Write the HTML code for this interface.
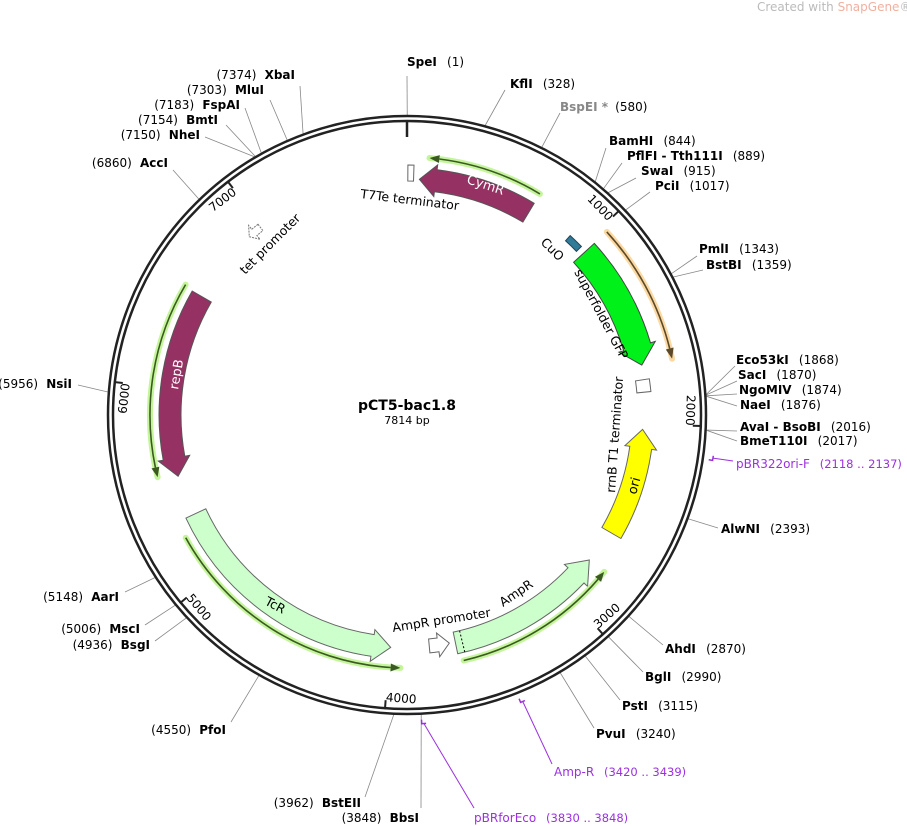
<!DOCTYPE html>
<html><head><meta charset="utf-8"><style>
html,body{margin:0;padding:0;background:#fff;}
svg{display:block;font-family:"DejaVu Sans","Liberation Sans",sans-serif;}
.n{font-weight:bold;font-size:12px;fill:#000}
.c{font-size:12px;font-weight:normal;fill:#000}
.p{font-size:12px;fill:#9b30e0}
.pc{font-size:11.5px;fill:#9b30e0}
.f{font-size:12.5px;fill:#000}
</style></head><body>
<svg id="s" width="907" height="826" viewBox="0 0 907 826" xmlns="http://www.w3.org/2000/svg">
<g id="lines"></g>
<circle cx="407" cy="415" r="299" fill="none" stroke="#222" stroke-width="2.5"/>
<circle cx="407" cy="415" r="294" fill="none" stroke="#222" stroke-width="2.5"/>
<g id="feat"></g>
<g id="ticks"></g>
<text x="757" y="11" font-size="12" fill="#bbb">Created with <tspan fill="#f0b0a0">SnapGene</tspan>®</text>
<text x="407" y="410" text-anchor="middle" font-weight="bold" font-size="14">pCT5-bac1.8</text>
<text x="407" y="424" text-anchor="middle" font-size="11">7814 bp</text>

<text x="407" y="66" class="n">SpeI <tspan class="c" dx="6">(1)</tspan></text>
<text x="510" y="88" class="n">KflI <tspan class="c" dx="6">(328)</tspan></text>
<text x="560" y="111" class="n" style="fill:#888">BspEI * <tspan class="c" dx="3">(580)</tspan></text>
<text x="609" y="145" class="n">BamHI <tspan class="c" dx="6">(844)</tspan></text>
<text x="627" y="160" class="n">PflFI  - Tth111I <tspan class="c" dx="6">(889)</tspan></text>
<text x="641" y="175" class="n">SwaI <tspan class="c" dx="6">(915)</tspan></text>
<text x="655" y="190" class="n">PciI <tspan class="c" dx="6">(1017)</tspan></text>
<text x="699" y="253" class="n">PmlI <tspan class="c" dx="6">(1343)</tspan></text>
<text x="706" y="269" class="n">BstBI <tspan class="c" dx="6">(1359)</tspan></text>
<text x="736" y="364" class="n">Eco53kI <tspan class="c" dx="6">(1868)</tspan></text>
<text x="738" y="379" class="n">SacI <tspan class="c" dx="6">(1870)</tspan></text>
<text x="739" y="394" class="n">NgoMIV <tspan class="c" dx="6">(1874)</tspan></text>
<text x="740" y="409" class="n">NaeI <tspan class="c" dx="6">(1876)</tspan></text>
<text x="740" y="431" class="n">AvaI  - BsoBI <tspan class="c" dx="6">(2016)</tspan></text>
<text x="740" y="445" class="n">BmeT110I <tspan class="c" dx="6">(2017)</tspan></text>
<text x="736" y="468" class="p">pBR322ori-F <tspan class="pc" dx="6">(2118 .. 2137)</tspan></text>
<text x="721" y="533" class="n">AlwNI <tspan class="c" dx="6">(2393)</tspan></text>
<text x="665" y="653" class="n">AhdI <tspan class="c" dx="6">(2870)</tspan></text>
<text x="645" y="681" class="n">BglI <tspan class="c" dx="6">(2990)</tspan></text>
<text x="622" y="710" class="n">PstI <tspan class="c" dx="6">(3115)</tspan></text>
<text x="596" y="738" class="n">PvuI <tspan class="c" dx="6">(3240)</tspan></text>
<text x="554" y="776" class="p">Amp-R <tspan class="pc" dx="6">(3420 .. 3439)</tspan></text>
<text x="474" y="822" class="p">pBRforEco <tspan class="pc" dx="6">(3830 .. 3848)</tspan></text>
<text x="419" y="822" class="n" text-anchor="end"><tspan class="c">(3848)</tspan> <tspan dx="4">BbsI</tspan></text>
<text x="361" y="807" class="n" text-anchor="end"><tspan class="c">(3962)</tspan> <tspan dx="4">BstEII</tspan></text>
<text x="226" y="734" class="n" text-anchor="end"><tspan class="c">(4550)</tspan> <tspan dx="4">PfoI</tspan></text>
<text x="150" y="649" class="n" text-anchor="end"><tspan class="c">(4936)</tspan> <tspan dx="4">BsgI</tspan></text>
<text x="140" y="633" class="n" text-anchor="end"><tspan class="c">(5006)</tspan> <tspan dx="4">MscI</tspan></text>
<text x="119" y="601" class="n" text-anchor="end"><tspan class="c">(5148)</tspan> <tspan dx="4">AarI</tspan></text>
<text x="72" y="388" class="n" text-anchor="end"><tspan class="c">(5956)</tspan> <tspan dx="4">NsiI</tspan></text>
<text x="168" y="167" class="n" text-anchor="end"><tspan class="c">(6860)</tspan> <tspan dx="4">AccI</tspan></text>
<text x="200" y="139" class="n" text-anchor="end"><tspan class="c">(7150)</tspan> <tspan dx="4">NheI</tspan></text>
<text x="218" y="124" class="n" text-anchor="end"><tspan class="c">(7154)</tspan> <tspan dx="4">BmtI</tspan></text>
<text x="240" y="109" class="n" text-anchor="end"><tspan class="c">(7183)</tspan> <tspan dx="4">FspAI</tspan></text>
<text x="264" y="94" class="n" text-anchor="end"><tspan class="c">(7303)</tspan> <tspan dx="4">MluI</tspan></text>
<text x="295" y="79" class="n" text-anchor="end"><tspan class="c">(7374)</tspan> <tspan dx="4">XbaI</tspan></text>

<text x="0" y="0" class="f" transform="translate(360,198) rotate(7)">T7Te terminator</text>
<text x="0" y="0" font-size="13" fill="#fff" transform="translate(466,183) rotate(18)">CymR</text>
<text x="0" y="0" class="f" transform="translate(540,243) rotate(45)">CuO</text>
<text x="0" y="0" class="f" transform="translate(574,272) rotate(62)">superfolder GFP</text>
<text x="0" y="0" class="f" transform="translate(615,493) rotate(-86)">rrnB T1 terminator</text>
<text x="0" y="0" font-size="13" fill="#000" transform="translate(636,495) rotate(-75)">ori</text>
<text x="0" y="0" class="f" transform="translate(503,607) rotate(-34)">AmpR</text>
<text x="0" y="0" class="f" transform="translate(393,632) rotate(-9)">AmpR promoter</text>
<text x="0" y="0" class="f" transform="translate(264,604) rotate(28)">TcR</text>
<text x="0" y="0" font-size="13" fill="#fff" transform="translate(178,390) rotate(-80)">repB</text>
<text x="0" y="0" class="f" transform="translate(245,275) rotate(-45)">tet promoter</text>
</svg>
<script>
var cx=407,cy=415,T=7814,NS="http://www.w3.org/2000/svg";
function ang(bp){return bp/T*360;}
function pt(r,a){var t=a*Math.PI/180;return [cx+r*Math.sin(t),cy-r*Math.cos(t)];}
function el(g,tag,attrs){var e=document.createElementNS(NS,tag);for(var k in attrs)e.setAttribute(k,attrs[k]);document.getElementById(g).appendChild(e);return e;}
function P(p){return p[0].toFixed(1)+" "+p[1].toFixed(1);}
function arcPath(r,a1,a2){var s=a2>a1?1:0,l=Math.abs(a2-a1)>180?1:0;return "M"+P(pt(r,a1))+" A"+r+" "+r+" 0 "+l+" "+s+" "+P(pt(r,a2));}
function arrow(r,w,aT,aH,hd,fill,stroke,dash){
 var sg=aH>aT?1:-1,aB=aH-sg*hd,ro=r+w/2,ri=r-w/2;
 var s1=sg>0?1:0,s2=1-s1;
 var d="M"+P(pt(ro,aT))+" A"+ro+" "+ro+" 0 0 "+s1+" "+P(pt(ro,aB))+" L"+P(pt(ro+5,aB))+" L"+P(pt(r,aH))+" L"+P(pt(ri-5,aB))+" L"+P(pt(ri,aB))+" A"+ri+" "+ri+" 0 0 "+s2+" "+P(pt(ri,aT))+" Z";
 var a={d:d,fill:fill,stroke:stroke,"stroke-width":1};if(dash)a["stroke-dasharray"]=dash;
 el("feat","path",a);
}
function box(r,w,a1,a2,fill,stroke){
 var d="M"+P(pt(r+w/2,a1))+" A"+(r+w/2)+" "+(r+w/2)+" 0 0 1 "+P(pt(r+w/2,a2))+" L"+P(pt(r-w/2,a2))+" A"+(r-w/2)+" "+(r-w/2)+" 0 0 0 "+P(pt(r-w/2,a1))+" Z";
 el("feat","path",{d:d,fill:fill,stroke:stroke,"stroke-width":1});
}
function line(r,aT,aH,halo,col){
 var sg=aH>aT?1:-1,aB=aH-sg*2.2;
 el("feat","path",{d:arcPath(r,aT,aH),fill:"none",stroke:halo,"stroke-width":6,"stroke-linecap":"round"});
 el("feat","path",{d:arcPath(r,aT,aB),fill:"none",stroke:col,"stroke-width":1.6});
 el("feat","path",{d:"M"+P(pt(r+4,aB))+" L"+P(pt(r,aH))+" L"+P(pt(r-4,aB))+" Z",fill:col});
}
line(258,31,5,"#c4f59a","#3b5a22");
arrow(236,22,31,3,4,"#963163","#555");
box(242,16,0.2,1.6,"#fff","#666");
box(239,7,42.3,46,"#2f7b98","#245");
arrow(240,28,47.5,78,4.5,"#00f01a","#444");
line(271,47.5,78,"#fcd9a3","#5a4a2a");
box(238,14,81.5,84.5,"#fff","#666");
arrow(236,22,120,93.5,4.5,"#ffff00","#666");
arrow(233,22,168,128.5,5,"#ccffcc","#666");
(function(){var a=166.3,p=pt(244,a),q=pt(222,a);el("feat","line",{x1:p[0],y1:p[1],x2:q[0],y2:q[1],stroke:"#000","stroke-width":1,"stroke-dasharray":"2 2"});})();
arrow(232,14,174.5,169.5,2.8,"#fff","#666");
line(252,167,128.5,"#c4f59a","#3b5a22");
arrow(233,22,245,184,4.5,"#ccffcc","#666");
line(253,241,181.5,"#c4f59a","#3b5a22");
arrow(237,22,300,255,4.5,"#963163","#555");
line(257,300.5,256,"#c4f59a","#3b5a22");
arrow(238,8,322,318.5,1.6,"#fff","#777","2 1");
[0,1000,2000,3000,4000,5000,6000,7000].forEach(function(b){var a=ang(b);var p1=pt(295,a),p2=pt(b==0?278:286,a);
 el("ticks","line",{x1:p1[0],y1:p1[1],x2:p2[0],y2:p2[1],stroke:"#222","stroke-width":b==0?2.5:2});
 if(b==0)return;
 var rot,anc;if(a<120){rot=a;anc="end";}else if(a<255){rot=a-180;anc="start";}else{rot=a-360;anc="end";}
 var q=pt(283,a);var t=el("ticks","text",{x:0,y:0,"font-size":12,"text-anchor":anc,transform:"translate("+q[0].toFixed(1)+","+q[1].toFixed(1)+") rotate("+rot.toFixed(1)+") translate(0,4)"});t.textContent=b;});
var L=[[1,407,76],[328,505,90],[580,560,113],[844,606,148],[889,622,163],[915,636,178],[1017,650,192],[1343,697,256],[1359,703,270],
[1868,735,366],[1870,737,381],[1874,737,394],[1876,737,406],[2016,737,431],[2017,737,441],[2393,718,528],
[2870,663,645],[2990,643,672],[3115,620,700],[3240,594,728],[3848,421,808],[3962,365,797],[4550,231,722],
[4936,155,641],[5006,145,625],[5148,125,592],[5956,78,385],[6860,173,170],[7150,205,137],[7154,226,125],[7183,245,108],[7303,270,100],[7374,300,86]];
L.forEach(function(o){var a=ang(o[0]);var p=pt(300,a);
 el("lines","line",{x1:p[0],y1:p[1],x2:o[1],y2:o[2],stroke:"#888","stroke-width":0.8});});
function primer(b1,b2,x,y){var a=ang((b1+b2)/2);var q=pt(309,a);
 el("lines","path",{d:arcPath(309,ang(b1),ang(b2))+" L"+P(pt(305,ang(b2))),fill:"none",stroke:"#9b30e0","stroke-width":1.5});
 el("lines","line",{x1:q[0],y1:q[1],x2:x,y2:y,stroke:"#9b30e0","stroke-width":1});}
primer(2118,2137,733,461);primer(3420,3439,552,764);primer(3830,3848,474,808);
</script>
</body></html>
